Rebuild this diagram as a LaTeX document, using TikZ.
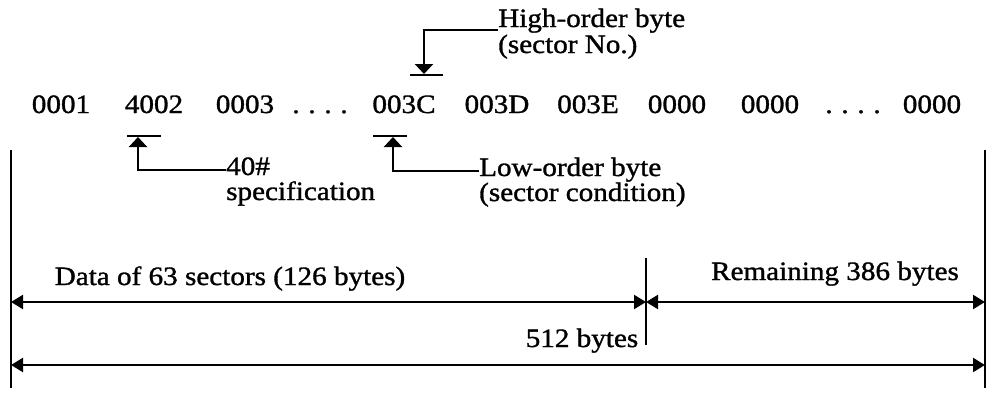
\documentclass[tikz,border=0pt]{standalone}
\usepackage{fontspec}
\setmainfont[FakeStretch=1.1,FakeBold=1.2]{Liberation Serif}
\usetikzlibrary{arrows.meta}
\begin{document}
\begin{tikzpicture}[x=1pt,y=-1pt,
  lbl/.style={inner sep=0pt, font=\fontsize{26.5}{30}\selectfont},
  num/.style={lbl, anchor=base},
  note/.style={lbl, anchor=base west},
  rule/.style={line width=2.2pt},
  ptr/.style={line width=2.2pt, -{Triangle[length=10pt,width=18pt]}},
  dim/.style={line width=2.2pt, {Triangle[length=12pt,width=14pt]}-{Triangle[length=12pt,width=14pt]}}]
\useasboundingbox (0,0) rectangle (989,392);
% top row
\node[num] (n1) at (61,113) {0001};
\node[num] (n2) at (154,113) {4002};
\node[num] (n3) at (245,113) {0003};
\node[num] (n4) at (320,113) {.\hspace{0.33em}.\hspace{0.33em}.\hspace{0.33em}.};
\node[num] (n5) at (404,113) {003C};
\node[num] (n6) at (497,113) {003D};
\node[num] (n7) at (588,113) {003E};
\node[num] (n8) at (677,113) {0000};
\node[num] (n9) at (770,113) {0000};
\node[num] (n10) at (853,113) {.\hspace{0.33em}.\hspace{0.33em}.\hspace{0.33em}.};
\node[num] (n11) at (932,113) {0000};
% annotation labels
\node[note] (hi1) at (498,27) {High-order byte};
\node[note] (hi2) at (498,53) {(sector No.)};
\node[note] (lo1) at (479,176) {Low-order byte};
\node[note] (lo2) at (479,201) {(sector condition)};
\node[note] (sp1) at (226,175) {40\#};
\node[note] (sp2) at (226,200) {specification};
% bars
\draw[rule] (410,75) -- (443,75);
\draw[rule] (373,136) -- (407,136);
\draw[rule] (127,136) -- (161,136);
\coordinate (hiTip) at (424,74);
\coordinate (loTip) at (393,137);
\coordinate (spTip) at (138,137);
% pointers
\draw[ptr] ([yshift=-3pt]hi1.base west) -| (hiTip);
\draw[ptr] ([yshift=5pt]lo1.base west) -| (loTip);
\draw[ptr] ([yshift=5pt]sp1.base west) -| (spTip);
% extension lines
\draw[rule] (11,150) -- (11,388);
\draw[rule] (985,150) -- (985,388);
\draw[rule] (646,258) -- (646,345);
\coordinate (L1) at (11,302);
\coordinate (M1) at (646,302);
\coordinate (R1) at (985,302);
\coordinate (L2) at (11,365);
\coordinate (R2) at (985,365);
\draw[dim] (L1) -- (M1);
\draw[dim] (M1) -- (R1);
\draw[dim] (L2) -- (R2);
\node[num] (d1) at (230,285) {Data of 63 sectors (126 bytes)};
\node[num] (d2) at (835,280) {Remaining 386 bytes};
\node[num] (d3) at (582,347) {512 bytes};
\end{tikzpicture}
\end{document}
